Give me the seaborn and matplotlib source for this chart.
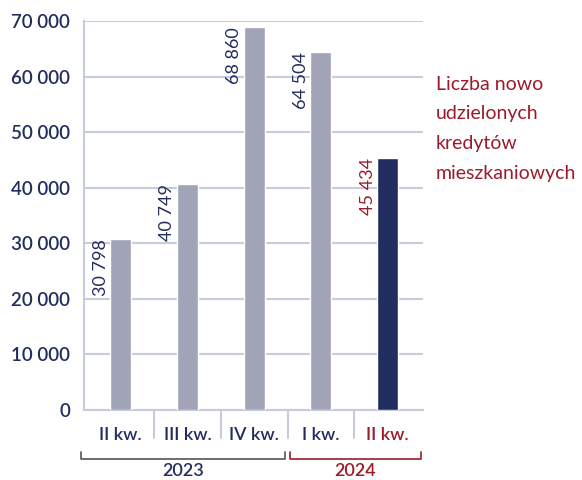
import pandas as pd
import numpy as np
import matplotlib
matplotlib.use('Agg')
import matplotlib.pyplot as plt
import matplotlib.transforms as mtransforms
import seaborn as sns

# data
quarters = ['II kw.', 'III kw.', 'IV kw.', 'I kw.', 'II kw. ']
loans = [30798, 40749, 68860, 64504, 45434]
value_labels = ['30 798', '40 749', '68 860', '64 504', '45 434']
years = ['2023', '2024']
year_spans = [(-0.594, 2.46), (2.534, 4.50)]
yticks = [0, 10000, 20000, 30000, 40000, 50000, 60000, 70000]
ytick_labels = ['0', '10 000', '20 000', '30 000', '40 000', '50 000', '60 000', '70 000']
title_lines = 'Liczba nowo\nudzielonych\nkredytów\nmieszkaniowych'

navy = '#232c5e'
grey_bar = '#a1a4b6'
red = '#9b1b2b'
grid_col = '#c7ccdc'
bar_colors = [grey_bar, grey_bar, grey_bar, grey_bar, '#212c5f']
text_colors = [navy, navy, navy, navy, red]
year_colors = ['#555555', red]

sns.set_style('white')
plt.rcParams['font.family'] = ['Lato', 'DejaVu Sans']

df = pd.DataFrame({'kw': quarters, 'n': loans})

fig = plt.figure(figsize=(5.82, 4.8), dpi=100)
ax = fig.add_axes([0.1443, 0.1458, 0.5825, 0.8104])
sns.barplot(data=df, x='kw', y='n', hue='kw', palette=bar_colors,
            width=0.316, legend=False, ax=ax, saturation=1, zorder=3)

ax.set_ylim(0, 70000)
ax.set_xlim(-0.55, 4.53)
ax.set_yticks(yticks)
ax.set_yticklabels(ytick_labels, fontsize=13.5, color=navy, fontweight='semibold')
ax.yaxis.grid(True, color=grid_col, linewidth=1.5, zorder=0)
ax.set_axisbelow(True)
ax.set_xlabel('')
ax.set_ylabel('')
ax.tick_params(axis='y', length=0, pad=10)
ax.tick_params(axis='x', length=0, pad=12)
ax.set_xticks(range(len(quarters)))
ax.set_xticklabels([q.strip() for q in quarters], fontsize=13, fontweight='semibold')
for lbl, c in zip(ax.get_xticklabels(), text_colors):
    lbl.set_color(c)

for s in ['top', 'right']:
    ax.spines[s].set_visible(False)
for s in ['left', 'bottom']:
    ax.spines[s].set_color(grid_col)
    ax.spines[s].set_linewidth(1.5)

# value labels, rotated, left of each bar
for i, (v, t, c) in enumerate(zip(loans, value_labels, text_colors)):
    ax.text(i - 0.18, v, t, rotation=90, ha='right', va='top',
            fontsize=13, color=c)

# separators under the axis
trans = mtransforms.blended_transform_factory(ax.transData, ax.transAxes)
for xb in [0.5, 1.5, 2.5, 3.5]:
    ax.plot([xb, xb], [0, -0.072], transform=trans, color=grid_col,
            lw=1.5, clip_on=False)

# year brackets
for (x0, x1), yr, c in zip(year_spans, years, year_colors):
    ax.plot([x0, x0, x1, x1], [-0.108, -0.126, -0.126, -0.108],
            transform=trans, color=c, lw=1.2, clip_on=False)
    ax.text((x0 + x1) / 2, -0.158, yr, transform=trans, ha='center',
            va='center', fontsize=13, color=c if yr == '2024' else navy,
            fontweight='semibold')

fig.text(0.749, 0.842, title_lines, ha='left', va='top', fontsize=14,
         color=red, linespacing=1.9)

fig.savefig('out.png', dpi=100)
